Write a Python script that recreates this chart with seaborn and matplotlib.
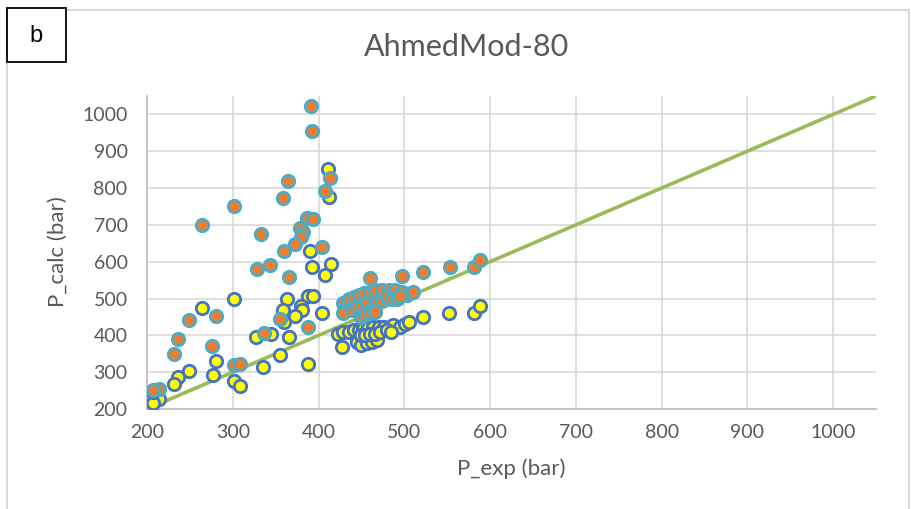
import matplotlib
matplotlib.use("Agg")
import matplotlib.pyplot as plt
import seaborn as sns
from matplotlib.patches import Rectangle

sns.set_theme(style="white")
plt.rcParams['font.family'] = ['Lato', 'DejaVu Sans']

# Series 1 (yellow markers)
yellow_x = [411, 412, 390, 392, 414, 408, 301, 264, 363, 388, 394, 359, 379, 381, 373,
            404, 360, 327, 344, 366, 355, 335, 388, 281, 277, 301, 308, 249, 236, 232,
            214, 207, 207,
            423, 429, 435, 441, 447, 452, 458, 464, 470, 476, 482, 487, 495, 501, 505,
            427, 445, 450, 456, 462, 468, 449, 454, 460, 466, 472, 480, 485,
            522, 552, 581, 588]
yellow_y = [851, 776, 630, 586, 594, 564, 499, 473, 499, 507, 507, 469, 480, 469, 453,
            462, 437, 396, 405, 395, 347, 315, 322, 329, 292, 276, 262, 304, 288, 268,
            227, 216, 247,
            405, 410, 410, 414, 414, 416, 419, 422, 423, 423, 419, 428, 423, 432, 437,
            369, 383, 374, 378, 383, 387, 401, 401, 405, 405, 410, 414, 410,
            451, 460, 462, 480]

# Series 2 (orange markers)
orange_x = [391, 392, 413, 408, 364, 359, 301, 264, 333, 386, 394, 378, 382, 380, 372,
            404, 360, 343, 328, 366, 249, 281, 236, 232, 276, 336, 355, 388, 301, 308,
            214, 207,
            428, 433, 435, 441, 447, 453, 460, 466, 474, 482, 489, 497, 503,
            429, 439, 445, 451, 456, 462, 468, 474, 480, 486, 491, 449, 454, 460, 466,
            495, 460, 497, 510,
            522, 553, 581, 588]
orange_y = [1022, 955, 828, 792, 820, 774, 752, 700, 675, 719, 716, 692, 681, 668, 648,
            639, 630, 591, 581, 559, 442, 453, 390, 349, 371, 406, 445, 423, 319, 322,
            254, 252,
            487, 482, 500, 505, 509, 514, 519, 523, 523, 523, 523, 519, 509,
            460, 469, 478, 482, 487, 478, 491, 496, 505, 500, 500, 451, 455, 460, 464,
            507, 555, 561, 518,
            573, 585, 586, 605]

# 1:1 reference line
line_x = [200, 1050]
line_y = [200, 1050]

x_ticks = [200, 300, 400, 500, 600, 700, 800, 900, 1000]
y_ticks = [200, 300, 400, 500, 600, 700, 800, 900, 1000]

fig = plt.figure(figsize=(9.11, 5.09), dpi=100)
ax = fig.add_axes([147 / 911, 1 - 409 / 509, (876 - 147) / 911, (409 - 96) / 509])

grid_c = '#D9D9D9'
text_c = '#595959'

sns.lineplot(x=line_x, y=line_y, ax=ax, color='#9BBB59', linewidth=2.6, zorder=2)
sns.scatterplot(x=yellow_x, y=yellow_y, ax=ax, color='#FFFF00', edgecolor='#4472C4',
                linewidth=2.0, s=80, zorder=3)
sns.scatterplot(x=orange_x, y=orange_y, ax=ax, color='#ED7D31', edgecolor='#4BACC6',
                linewidth=2.0, s=80, zorder=4)

ax.set_xlim(200, 1050)
ax.set_ylim(200, 1050)
ax.set_xticks(x_ticks)
ax.set_yticks(y_ticks)
ax.grid(True, color=grid_c, linewidth=1.2)
ax.set_axisbelow(True)
for side in ['top', 'right']:
    ax.spines[side].set_visible(False)
for side in ['left', 'bottom']:
    ax.spines[side].set_color('#BFBFBF')
    ax.spines[side].set_linewidth(1.2)
ax.tick_params(axis='both', length=0, labelsize=14, labelcolor=text_c)
ax.tick_params(axis='y', pad=14)
ax.tick_params(axis='x', pad=11)

fig.text(511 / 911, 1 - 469 / 509, 'P_exp (bar)', ha='center', va='center',
         fontsize=16, color=text_c)
fig.text(58 / 911, 1 - 252 / 509, 'P_calc (bar)', ha='center', va='center',
         rotation=90, fontsize=16, color=text_c)
fig.text(467 / 911, 1 - 47 / 509, 'AhmedMod-80', ha='center', va='center',
         fontsize=22, color=text_c)

# chart-area border
fig.patches.append(Rectangle((7 / 911, -0.05), 0.99, 1.05 - 10 / 509,
                             transform=fig.transFigure, fill=False,
                             edgecolor='#D9D9D9', linewidth=1.5))
# panel label box
fig.patches.append(Rectangle((7 / 911, 1 - 62 / 509), 59 / 911, 54 / 509,
                             transform=fig.transFigure, facecolor='white',
                             edgecolor='black', linewidth=1.3, zorder=5))
fig.text(36 / 911, 1 - 36 / 509, 'b', ha='center', va='center', fontsize=17,
         color='black', family=['Liberation Sans', 'DejaVu Sans'], zorder=6)

fig.savefig('out.png', dpi=100)
